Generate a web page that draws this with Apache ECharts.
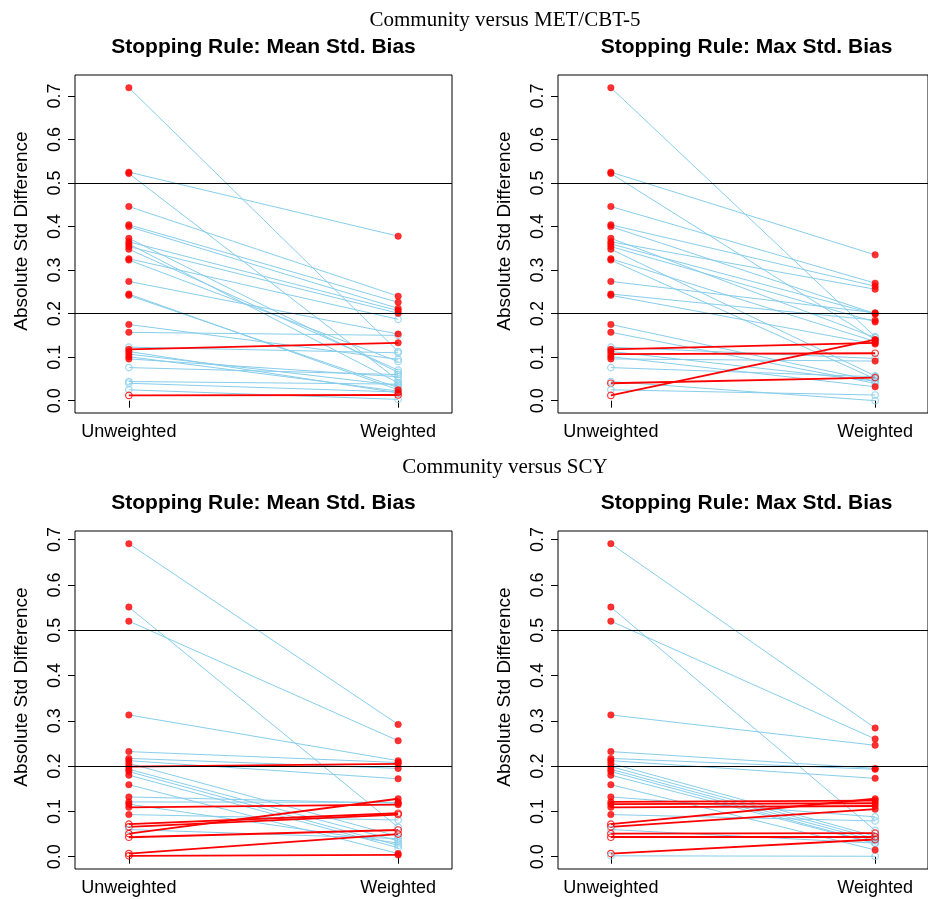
<!DOCTYPE html>
<html>
<head>
<meta charset="utf-8">
<script src="https://cdn.jsdelivr.net/npm/echarts@6/dist/echarts.min.js"></script>
<style>
  html, body { margin: 0; padding: 0; background: #fff; }
  #chart { width: 928px; height: 899px; }
</style>
</head>
<body>
<div id="chart"></div>
<script>
// ---- data ----
const groupLabels = ['Unweighted', 'Weighted'];
const yTicks = [0, 0.1, 0.2, 0.3, 0.4, 0.5, 0.6, 0.7];
const refLines = [0.2, 0.5];
const yAxisTitle = 'Absolute Std Difference';
const comparisonTitles = ['Community versus MET/CBT-5', 'Community versus SCY'];
const panelTitles = ['Stopping Rule: Mean Std. Bias', 'Stopping Rule: Max Std. Bias'];

// Community vs MET/CBT-5: unweighted abs. std. differences (shared by both stopping rules)
const unwMET = [0.719, 0.525, 0.522, 0.446, 0.404, 0.400, 0.373, 0.365, 0.360, 0.354,
  0.348, 0.326, 0.323, 0.274, 0.245, 0.242, 0.175, 0.157, 0.123, 0.118,
  0.113, 0.107, 0.101, 0.096, 0.076, 0.044, 0.040, 0.025, 0.012];
const sigUnwMET = [1, 1, 1, 1, 1, 1, 1, 1, 1, 1, 1, 1, 1, 1, 1, 1, 1, 1, 0, 1,
  1, 1, 1, 1, 0, 0, 0, 0, 0];

const wtdMetMean = [0.113, 0.378, 0.047, 0.240, 0.226, 0.212, 0.065, 0.207, 0.041, 0.201,
  0.070, 0.187, 0.090, 0.153, 0.025, 0.030, 0.095, 0.150, 0.110, 0.133,
  0.018, 0.035, 0.022, 0.055, 0.060, 0.038, 0.020, 0.003, 0.013];
const sigWtdMetMean = [0, 1, 0, 1, 1, 1, 0, 1, 0, 1, 0, 0, 0, 1, 1, 0, 0, 0, 0, 1,
  1, 0, 0, 0, 0, 0, 0, 0, 0];

const wtdMetMax = [0.147, 0.335, 0.140, 0.270, 0.263, 0.200, 0.145, 0.256, 0.199, 0.181,
  0.057, 0.136, 0.050, 0.202, 0.185, 0.130, 0.045, 0.040, 0.097, 0.133,
  0.045, 0.109, 0.032, 0.091, 0.055, 0.000, 0.053, 0.013, 0.140];
const sigWtdMetMax = [0, 1, 1, 1, 1, 1, 0, 1, 1, 1, 0, 1, 0, 1, 1, 1, 0, 0, 0, 1,
  0, 0, 1, 1, 0, 0, 0, 0, 1];

// Community vs SCY
const unwSCY = [0.691, 0.551, 0.520, 0.313, 0.232, 0.217, 0.212, 0.206, 0.199, 0.193,
  0.188, 0.180, 0.159, 0.132, 0.121, 0.116, 0.109, 0.093, 0.072, 0.066,
  0.060, 0.051, 0.043, 0.007, 0.002];
const sigUnwSCY = [1, 1, 1, 1, 1, 1, 1, 1, 1, 1, 1, 1, 1, 1, 1, 1, 1, 1, 0, 0,
  0, 0, 0, 0, 0];

const wtdScyMean = [0.292, 0.065, 0.256, 0.212, 0.208, 0.195, 0.172, 0.045, 0.205, 0.035,
  0.025, 0.020, 0.007, 0.118, 0.120, 0.030, 0.115, 0.081, 0.096, 0.093,
  0.040, 0.128, 0.059, 0.050, 0.004];
const sigWtdScyMean = [1, 0, 1, 1, 1, 1, 1, 0, 1, 0, 0, 0, 1, 1, 1, 0, 1, 0, 0, 0,
  0, 1, 0, 0, 1];

const wtdScyMax = [0.284, 0.058, 0.260, 0.246, 0.195, 0.193, 0.173, 0.045, 0.040, 0.035,
  0.030, 0.029, 0.015, 0.088, 0.124, 0.118, 0.112, 0.079, 0.128, 0.105,
  0.030, 0.052, 0.044, 0.038, 0.001];
const sigWtdScyMax = [1, 0, 1, 1, 1, 1, 1, 0, 0, 0, 0, 0, 1, 0, 1, 1, 1, 0, 1, 1,
  0, 0, 0, 0, 0];

// ---- layout ----
const BLUE = '#87CEEB';
const RED = '#FF0000';
const FONT = '"Liberation Sans", Arial, Helvetica, sans-serif';
const SERIF = '"Liberation Serif", "Times New Roman", serif';

const panels = [
  { left: 75,  top: 75,  yMin: -0.0283, yMax: 0.7482, unw: unwMET, sigU: sigUnwMET, wtd: wtdMetMean, sigW: sigWtdMetMean, title: panelTitles[0] },
  { left: 558, top: 75,  yMin: -0.0283, yMax: 0.7482, unw: unwMET, sigU: sigUnwMET, wtd: wtdMetMax,  sigW: sigWtdMetMax,  title: panelTitles[1] },
  { left: 75,  top: 531, yMin: -0.0271, yMax: 0.719,  unw: unwSCY, sigU: sigUnwSCY, wtd: wtdScyMean, sigW: sigWtdScyMean, title: panelTitles[0] },
  { left: 558, top: 531, yMin: -0.0271, yMax: 0.719,  unw: unwSCY, sigU: sigUnwSCY, wtd: wtdScyMax,  sigW: sigWtdScyMax,  title: panelTitles[1] }
];
const PW = 377, PH = 338;

function makePoint(x, y, sig, lineColor) {
  if (sig) {
    return { value: [x, y], itemStyle: { color: RED, borderColor: RED, borderWidth: 0.5 } };
  }
  return { value: [x, y], itemStyle: { color: 'rgba(255,255,255,0)', borderColor: lineColor, borderWidth: 1.2 } };
}

const grids = [], xAxes = [], yAxes = [], series = [], graphics = [];

panels.forEach((p, k) => {
  grids.push({ left: p.left, top: p.top, width: PW, height: PH, show: true,
    borderColor: '#000', borderWidth: 1, backgroundColor: 'transparent' });

  xAxes.push({
    gridIndex: k, type: 'value', min: 0.8, max: 2.2,
    axisLine: { show: false },
    splitLine: { show: false },
    axisTick: { show: true, customValues: [1, 2], length: 7, lineStyle: { color: '#000', width: 1 } },
    axisLabel: { show: true, customValues: [1, 2], margin: 10, fontSize: 18, color: '#000', fontFamily: FONT,
      formatter: v => groupLabels[Math.round(v) - 1] }
  });

  yAxes.push({
    gridIndex: k, type: 'value', min: p.yMin, max: p.yMax,
    axisLine: { show: false },
    splitLine: { show: false },
    axisTick: { show: true, customValues: yTicks, length: 7, lineStyle: { color: '#000', width: 1 } },
    axisLabel: { show: true, customValues: yTicks, rotate: 90, margin: 11, fontSize: 18, color: '#000', fontFamily: FONT,
      formatter: v => v.toFixed(1) }
  });

  const blueLines = [], redLines = [], openPts = [], filledPts = [];
  p.unw.forEach((u, i) => {
    const w = p.wtd[i];
    const up = w > u;
    const c = up ? RED : BLUE;
    (up ? redLines : blueLines).push({ coords: [[1, u], [2, w]] });
    (p.sigU[i] ? filledPts : openPts).push(makePoint(1, u, p.sigU[i], c));
    (p.sigW[i] ? filledPts : openPts).push(makePoint(2, w, p.sigW[i], c));
  });

  series.push({
    type: 'lines', coordinateSystem: 'cartesian2d', xAxisIndex: k, yAxisIndex: k,
    z: 2, silent: true, data: blueLines,
    lineStyle: { color: BLUE, width: 1, opacity: 1 },
    markLine: {
      silent: true, symbol: ['none', 'none'], label: { show: false },
      lineStyle: { color: '#000', width: 1, type: 'solid' },
      data: refLines.map(v => ({ yAxis: v }))
    }
  });
  series.push({
    type: 'lines', coordinateSystem: 'cartesian2d', xAxisIndex: k, yAxisIndex: k,
    z: 3, silent: true, data: redLines,
    lineStyle: { color: RED, width: 1.8, opacity: 1 }
  });
  series.push({
    type: 'scatter', xAxisIndex: k, yAxisIndex: k, z: 4, silent: true,
    symbol: 'circle', symbolSize: 6.5,
    data: openPts.concat(filledPts)
  });

  // panel title
  graphics.push({
    type: 'text', x: p.left + PW / 2, y: p.top - 28,
    style: { text: p.title, textAlign: 'center', textVerticalAlign: 'middle',
      font: 'bold 21px ' + FONT, fill: '#000' }
  });
  // y axis title (sits a little above the box centre, as in R)
  graphics.push({
    type: 'text', x: p.left - 53, y: p.top + PH / 2 - 13, rotation: Math.PI / 2,
    style: { text: yAxisTitle, textAlign: 'center', textVerticalAlign: 'middle',
      font: '19px ' + FONT, fill: '#000' }
  });
});

graphics.push({
  type: 'text', x: 505, y: 20,
  style: { text: comparisonTitles[0], textAlign: 'center', textVerticalAlign: 'middle',
    font: '21px ' + SERIF, fill: '#000' }
});
graphics.push({
  type: 'text', x: 505, y: 467,
  style: { text: comparisonTitles[1], textAlign: 'center', textVerticalAlign: 'middle',
    font: '21px ' + SERIF, fill: '#000' }
});

const chart = echarts.init(document.getElementById('chart'), null, { renderer: 'canvas' });
chart.setOption({
  backgroundColor: '#fff',
  animation: false,
  grid: grids,
  xAxis: xAxes,
  yAxis: yAxes,
  series: series,
  graphic: graphics
});
</script>
</body>
</html>
